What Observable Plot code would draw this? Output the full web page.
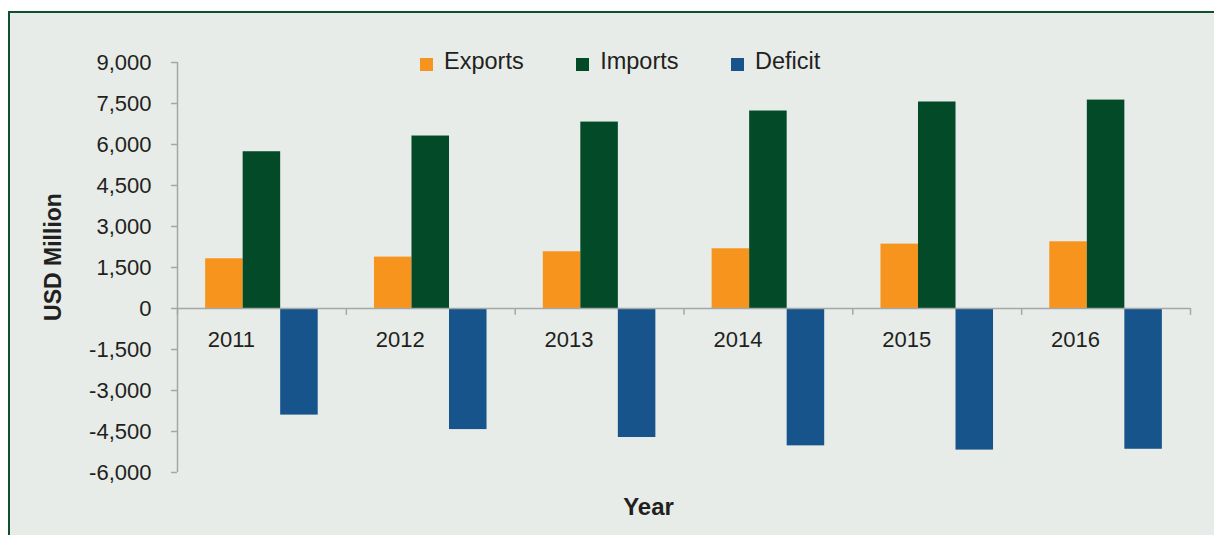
<!DOCTYPE html>
<html>
<head>
<meta charset="utf-8">
<script src="https://cdn.jsdelivr.net/npm/d3@7"></script>
<script src="https://cdn.jsdelivr.net/npm/@observablehq/plot@0.6"></script>
<style>
  body { margin: 0; background: #ffffff; font-family: "Liberation Sans", Arial, sans-serif; color: #231f20; }
  #wrap { position: relative; width: 1214px; height: 535px; overflow: hidden; }
  #panel { position: absolute; left: 8px; top: 11px; width: 1230px; height: 560px; box-sizing: border-box;
           background: #e7ece8; border-left: 2px solid #0d5230; border-top: 2px solid #0d5230; }
  #chart { position: absolute; left: 0; top: 0; }
  #legend { position: absolute; left: 420px; top: 50px; display: flex; gap: 52.5px; font-size: 23.5px; line-height: 23.5px; white-space: nowrap; }
  .item { display: flex; align-items: flex-start; }
  .sw { width: 13px; height: 13px; margin-top: 8px; margin-right: 11px; }
  #ytitle { position: absolute; left: 53px; top: 256.5px; transform: translate(-50%, -50%) rotate(-90deg);
            font-weight: bold; font-size: 23px; line-height: 23px; white-space: nowrap; }
  #xtitle { position: absolute; left: 648.5px; top: 494.7px; transform: translateX(-50%);
            font-weight: bold; font-size: 24px; line-height: 24px; white-space: nowrap; }
</style>
</head>
<body>
<div id="wrap">
  <div id="panel"></div>
  <div id="chart"></div>
  <div id="legend"></div>
  <div id="ytitle">USD Million</div>
  <div id="xtitle">Year</div>
</div>
<script>
// ---- data ----
const years = ["2011", "2012", "2013", "2014", "2015", "2016"];
const series = ["Exports", "Imports", "Deficit"];
const exportsVals = [1820, 1880, 2075, 2185, 2355, 2440];
const importsVals = [5735, 6310, 6820, 7225, 7555, 7625];
const deficitVals = [-3900, -4430, -4720, -5025, -5180, -5150];
const yTicks = [-6000, -4500, -3000, -1500, 0, 1500, 3000, 4500, 6000, 7500, 9000];
const colors = ["#f7941e", "#034a28", "#17548c"];

// ---- table built from arrays ----
const valuesBySeries = [exportsVals, importsVals, deficitVals];
const rows = years.flatMap((year, i) =>
  series.map((s, k) => ({ year, series: s, value: valuesBySeries[k][i] })));

// ---- layout ----
const W = 1214, H = 535, ML = 177, MR = 24, MT = 62, MB = 63;
const PADO = 0.75;
const facetW = (W - ML - MR) / years.length;
const step = facetW / (series.length + 2 * PADO);
const edge = (PADO + 0.5) * step; // from first/last band centre to facet edge
const grey = "#a3a7a9";

const fmt = d3.formatLocale({ decimal: ".", thousands: ",", grouping: [3], currency: ["$", ""], minus: "-" }).format(",");

const leftEdges = years.map(year => ({ year, series: series[0] }));
const rightEnd = [{ year: years[years.length - 1], series: series[series.length - 1] }];
const axisRow = [{ year: years[0], series: series[0] }];

const chart = Plot.plot({
  width: W, height: H,
  marginLeft: ML, marginRight: MR, marginTop: MT, marginBottom: MB,
  style: { background: "transparent", fontFamily: '"Liberation Sans", Arial, sans-serif', color: "#231f20", overflow: "visible" },
  fx: { domain: years, padding: 0, round: false, axis: null },
  x: { domain: series, paddingInner: 0, paddingOuter: PADO, round: false, axis: null },
  y: { domain: [yTicks[0], yTicks[yTicks.length - 1]], axis: null },
  color: { domain: series, range: colors },
  marks: [
    Plot.barY(rows, { fx: "year", x: "series", y: "value", fill: "series" }),
    Plot.ruleY([0], { stroke: grey, strokeWidth: 1.5 }),
    Plot.ruleX(leftEdges, { fx: "year", x: "series", dx: -edge, y1: () => 0, y2: () => -250, stroke: grey, strokeWidth: 1.5 }),
    Plot.ruleX(rightEnd, { fx: "year", x: "series", dx: edge, y1: () => 0, y2: () => -250, stroke: grey, strokeWidth: 1.5 }),
    Plot.ruleX(axisRow, { fx: "year", x: "series", dx: -edge, y1: () => yTicks[0], y2: () => yTicks[yTicks.length - 1], stroke: grey, strokeWidth: 1.5 }),
    Plot.axisY({ ticks: yTicks, tickFormat: fmt, tickSize: 6, tickPadding: 20, fontSize: 22, stroke: grey, strokeWidth: 1.5, strokeOpacity: 1, label: null }),
    Plot.text(leftEdges, { fx: "year", x: "series", y: () => 0, text: "year", dx: 7, dy: 31, fontSize: 22, fill: "#231f20" })
  ]
});
document.getElementById("chart").appendChild(chart);

// ---- legend ----
const legend = document.getElementById("legend");
series.forEach((s, k) => {
  const item = document.createElement("div");
  item.className = "item";
  const sw = document.createElement("div");
  sw.className = "sw";
  sw.style.background = colors[k];
  const label = document.createElement("span");
  label.textContent = s;
  item.appendChild(sw);
  item.appendChild(label);
  legend.appendChild(item);
});
</script>
</body>
</html>
